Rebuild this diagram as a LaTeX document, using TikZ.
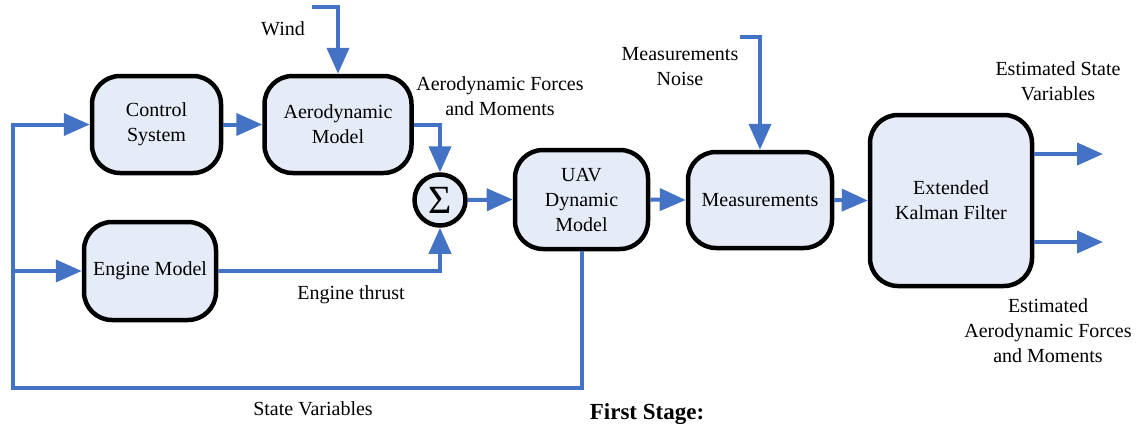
\documentclass[tikz,border=0pt]{standalone}
\usepackage{fontspec}
\setmainfont{Liberation Serif}
\usetikzlibrary{arrows.meta}
\definecolor{lblue}{HTML}{4472C4}
\definecolor{bfill}{HTML}{E6ECF7}
\tikzset{
  blk/.style={draw=black, line width=4.5pt, fill=bfill, rounded corners=28pt, align=center,
    font=\fontsize{20}{25}\selectfont, inner sep=0pt},
  arr/.style={draw=lblue, line width=4pt, -{Triangle[length=26pt,width=22pt]}},
  lbl/.style={align=center, font=\fontsize{20}{25}\selectfont, inner sep=0pt}
}
\begin{document}
\begin{tikzpicture}[x=1pt,y=-1pt]
\useasboundingbox (0,0) rectangle (1143,426);
% blocks
\node[blk, minimum width=129pt, minimum height=97pt] (ctrl) at (156.5,124.5) {Control\\System};
\node[blk, minimum width=147pt, minimum height=97pt] (aero) at (338,124.5) {Aerodynamic\\Model};
\node[blk, minimum width=132pt, minimum height=98pt] (eng) at (150,271) {Engine Model};
\node[blk, minimum width=133pt, minimum height=99pt] (uav) at (581.5,199.5) {UAV\\Dynamic\\Model};
\node[blk, minimum width=144pt, minimum height=96pt] (meas) at (760,200) {Measurements};
\node[blk, minimum width=162pt, minimum height=171pt] (ekf) at (951,200.5) {Extended\\Kalman Filter};
\node[draw=black, line width=4.5pt, fill=bfill, circle, minimum size=51pt, inner sep=0pt] (sig) at (440,200) {\fontsize{40}{40}\selectfont Σ};
% coordinates
\coordinate (w0) at (312,7);
\coordinate (n0) at (740,37);
\coordinate (fbl) at (13,388);
\coordinate (br) at (13,271);
\coordinate (o1) at (1103,154);
\coordinate (o2) at (1103,242);
% connectors
\draw[arr] (w0) -| (aero.north);
\draw[arr] (ctrl.east) -- (aero.west);
\draw[arr] (aero.east) -| (sig.north);
\draw[arr] (eng.east) -| (sig.south);
\draw[arr] (sig.east) -- (uav.west);
\draw[arr] (uav.east) -- (meas.west);
\draw[arr] (n0) -| (meas.north);
\draw[arr] (meas.east) -- (ekf.west);
\draw[arr] (uav.south) |- (fbl) |- (ctrl.west);
\draw[arr] (br) -- (eng.west);
\draw[arr] (ekf.east |- o1) -- (o1);
\draw[arr] (ekf.east |- o2) -- (o2);
% labels
\node[lbl] (lwind) at (283,29) {Wind};
\node[lbl] (laero) at (500,96) {Aerodynamic Forces\\and Moments};
\node[lbl] (lnoise) at (680,67) {Measurements\\Noise};
\node[lbl] (lest) at (1058,81) {Estimated State\\Variables};
\node[lbl] (lestf) at (1048,331) {Estimated\\Aerodynamic Forces\\and Moments};
\node[lbl] (lthr) at (351,295) {Engine thrust};
\node[lbl] (lsv) at (313,409) {State Variables};
\node[anchor=base, inner sep=0pt, font=\fontsize{23}{27}\selectfont\bfseries] (lfirst) at (647,419) {First Stage:};
\end{tikzpicture}
\end{document}
